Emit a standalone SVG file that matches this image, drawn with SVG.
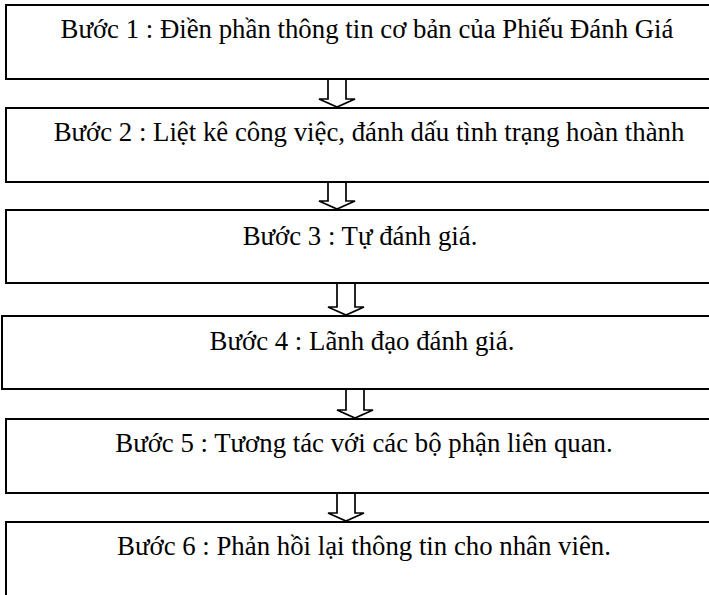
<svg xmlns="http://www.w3.org/2000/svg" width="709" height="595" viewBox="0 0 709 595">
  <style>
    .box { fill: #ffffff; stroke: #000000; stroke-width: 2; }
    .lbl { font-family: "Liberation Serif", "Times New Roman", serif; font-size: 26.8px; fill: #000000; text-anchor: middle; }
    .arrow { fill: #ffffff; stroke: #000000; stroke-width: 1.7; stroke-linejoin: miter; }
  </style>
  <rect x="0" y="0" width="709" height="595" fill="#ffffff"/>

  <!-- Down arrows between the steps -->
  <g id="connectors">
    <path class="arrow" d="M328,79 L346,79 L346,99 L355,99 L337,107 L319,99 L328,99 Z"/>
    <path class="arrow" d="M328,182 L346,182 L346,201 L355,201 L337,209 L319,201 L328,201 Z"/>
    <path class="arrow" d="M337,283 L355,283 L355,307 L364,307 L346,315 L328,307 L337,307 Z"/>
    <path class="arrow" d="M346,389 L364,389 L364,410 L373,410 L355,418 L337,410 L346,410 Z"/>
    <path class="arrow" d="M337,493 L355,493 L355,513 L364,513 L346,521 L328,513 L337,513 Z"/>
  </g>

  <g id="step1">
    <rect class="box" x="6" y="5" width="720" height="74"/>
    <text class="lbl" x="367" y="38">Bước 1 : Điền phần thông tin cơ bản của Phiếu Đánh Giá</text>
  </g>
  <g id="step2">
    <rect class="box" x="6" y="108" width="720" height="74"/>
    <text class="lbl" x="369" y="141">Bước 2 : Liệt kê công việc, đánh dấu tình trạng hoàn thành</text>
  </g>
  <g id="step3">
    <rect class="box" x="6" y="210" width="720" height="73"/>
    <text class="lbl" x="360" y="245">Bước 3 : Tự đánh giá.</text>
  </g>
  <g id="step4">
    <rect class="box" x="2" y="316" width="724" height="73"/>
    <text class="lbl" x="362" y="350">Bước 4 : Lãnh đạo đánh giá.</text>
  </g>
  <g id="step5">
    <rect class="box" x="6" y="419" width="720" height="74"/>
    <text class="lbl" x="364" y="452">Bước 5 : Tương tác với các bộ phận liên quan.</text>
  </g>
  <g id="step6">
    <rect class="box" x="6" y="522" width="720" height="90"/>
    <text class="lbl" x="364" y="555">Bước 6 : Phản hồi lại thông tin cho nhân viên.</text>
  </g>
</svg>
